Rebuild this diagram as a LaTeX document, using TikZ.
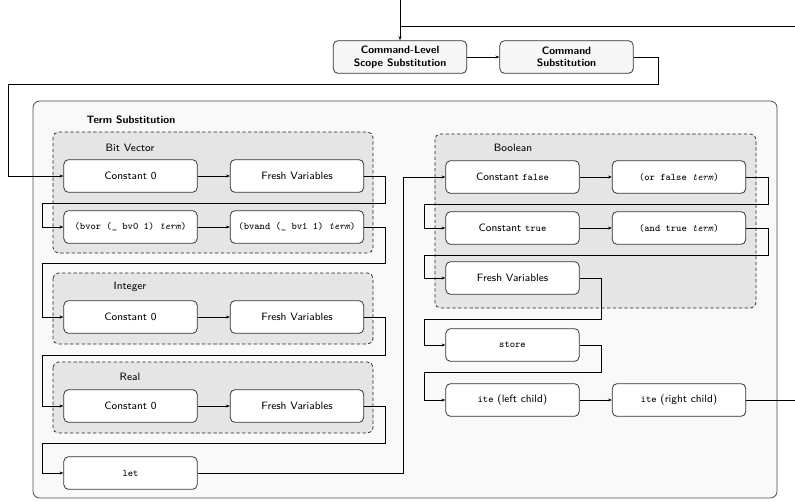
\documentclass[tikz,border=0pt]{standalone}
\usetikzlibrary{arrows.meta}
\newcommand{\codetext}[1]{{\fontsize{7.5}{9}\selectfont\texttt{#1}}}
\begin{document}
\begin{tikzpicture}[x=0.75pt,y=-0.75pt,
  font=\footnotesize\sffamily,
  stage/.style={draw=black!80,fill=white,rounded corners=3.5pt,line width=0.6pt,
    minimum width=100pt,minimum height=24.5pt,inner sep=0pt,align=center},
  topstage/.style={stage,font=\footnotesize\sffamily\bfseries,fill=black!3},
  flow/.style={line width=0.5pt,-{Stealth[length=3pt,width=2.2pt]}},
  plain/.style={line width=0.5pt},
  group/.style={draw=black!85,fill=black!10,dashed,dash pattern=on 2.5pt off 1.8pt,
    rounded corners=4pt,line width=0.55pt},
  outer/.style={draw=black!70,fill=black!2.5,rounded corners=5pt,line width=0.6pt},
  grouplabel/.style={inner sep=0pt}]
\useasboundingbox (0,0) rectangle (795,501);

% outer container and type groups
\draw[outer] (33,101) rectangle (777,498);
\node[grouplabel,font=\footnotesize\sffamily\bfseries] (tslabel) at (131,120) {Term Substitution};
\draw[group] (53,132) rectangle (373,253);
\draw[group] (53,273) rectangle (373,344);
\draw[group] (53,362) rectangle (373,433);
\draw[group] (435,134) rectangle (756,308);
\node[grouplabel] (bvlabel) at (130,148) {Bit Vector};
\node[grouplabel] (intlabel) at (130,287) {Integer};
\node[grouplabel] (reallabel) at (130,377) {Real};
\node[grouplabel] (boollabel) at (513,148) {Boolean};

% top-level stages
\coordinate (entry) at (400,0);
\node[topstage] (cls) at (400,57) {Command-Level\\Scope Substitution};
\node[topstage] (cs) at (566.5,57) {Command\\Substitution};

% bit vector
\node[stage] (bvA) at (130.5,176) {Constant 0};
\node[stage] (bvB) at (297,176) {Fresh Variables};
\node[stage] (bvC) at (130.5,227) {\codetext{(bvor (\_ bv0 1) \textit{term})}};
\node[stage] (bvD) at (297,227) {\codetext{(bvand (\_ bv1 1) \textit{term})}};

% integer
\node[stage] (inA) at (130.5,317) {Constant 0};
\node[stage] (inB) at (297,317) {Fresh Variables};

% real
\node[stage] (reA) at (130.5,406) {Constant 0};
\node[stage] (reB) at (297,406) {Fresh Variables};

% let
\node[stage] (let) at (130.5,473) {\codetext{let}};

% boolean
\node[stage] (boA) at (512.5,177) {Constant \codetext{false}};
\node[stage] (boB) at (679,177) {\codetext{(or false \textit{term})}};
\node[stage] (boC) at (512.5,228) {Constant \codetext{true}};
\node[stage] (boD) at (679,228) {\codetext{(and true \textit{term})}};
\node[stage] (boE) at (512.5,278) {Fresh Variables};

% remaining term kinds
\node[stage] (store) at (512.5,345) {\codetext{store}};
\node[stage] (iteL) at (512.5,400) {\codetext{ite} (left child)};
\node[stage] (iteR) at (679,400) {\codetext{ite} (right child)};

% connectors
\draw[flow] (entry) -- (cls.north);
\draw[flow] (cls) -- (cs);
\draw[flow] (cs.east) -| (658,84) -- (8,84) |- (bvA.west);
\draw[flow] (bvA) -- (bvB);
\draw[flow] (bvB.east) -| (385,203) -- (42,203) |- (bvC.west);
\draw[flow] (bvC) -- (bvD);
\draw[flow] (bvD.east) -| (385,263) -- (42,263) |- (inA.west);
\draw[flow] (inA) -- (inB);
\draw[flow] (inB.east) -| (385,355) -- (42,355) |- (reA.west);
\draw[flow] (reA) -- (reB);
\draw[flow] (reB.east) -| (385,443) -- (42,443) |- (let.west);
\draw[flow] (let.east) -| (403,177) -- (boA.west);
\draw[flow] (boA) -- (boB);
\draw[flow] (boB.east) -| (768,204) -- (424,204) |- (boC.west);
\draw[flow] (boC) -- (boD);
\draw[flow] (boD.east) -| (768,255) -- (424,255) |- (boE.west);
\draw[flow] (boE.east) -| (601,319) -- (424,319) |- (store.west);
\draw[flow] (store.east) -| (601,372) -- (424,372) |- (iteL.west);
\draw[flow] (iteL) -- (iteR);
\draw[plain] (iteR.east) -- (805,400) |- (entry |- 0,26);
\end{tikzpicture}
\end{document}
